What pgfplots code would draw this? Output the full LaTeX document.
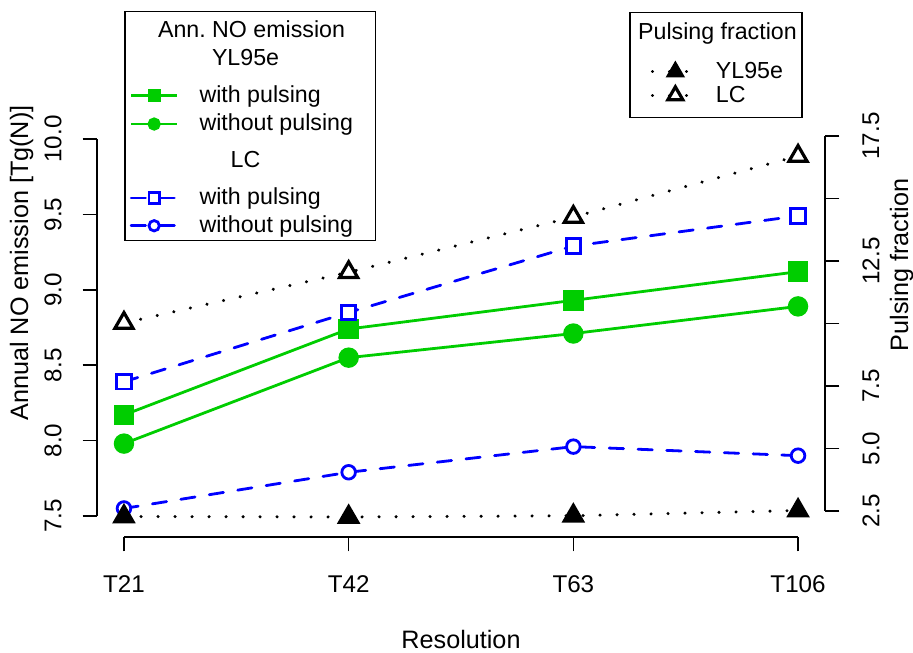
\documentclass[border=0pt]{standalone}
\usepackage{fontspec}
\setmainfont{Liberation Sans}
\usepackage{pgfplots}
\pgfplotsset{compat=1.18}
\frenchspacing
\definecolor{rgreen}{RGB}{0,205,0}
\definecolor{rblue}{RGB}{0,0,255}
\newcommand{\sr}[2]{\rule[-#2]{0pt}{\dimexpr#1+#2\relax}}
\pgfplotsset{
 rstyle/.style={
  scale only axis, width=364bp, height=209.5bp,
  xmin=-0.12, xmax=3.12, clip=false,
  tick align=outside, major tick length=7.2bp,
  every tick/.style={black, line width=0.75bp},
  axis line style={draw=none},
  tick label style={font=\fontsize{12.1bp}{14bp}\selectfont, inner sep=0pt},
  /pgf/number format/assume math mode=true,
  legend style={draw=black, line width=0.75bp, fill=white, inner sep=0pt, anchor=north west,
    font=\fontsize{11.6bp}{14bp}\selectfont, /tikz/column sep=0pt, /tikz/row sep=0pt,
    nodes={inner sep=0pt, text depth=, text height=}, cells={anchor=base west}},
 }}
\begin{document}
\begin{tikzpicture}
\path[use as bounding box] (0,0) rectangle (456.5bp,326.5bp);
\begin{axis}[rstyle, at={(48.5bp,58bp)}, anchor=south west,
 ymin=7.3607, ymax=10.1393,
 axis x line*=bottom, axis y line*=left,
 xtick={0,1,2,3}, xticklabels={T21,T42,T63,T106},
 ytick={7.5,8,8.5,9,9.5,10}, yticklabels={7.5,8.0,8.5,9.0,9.5,10.0},
 yticklabel style={rotate=90, anchor=south},
 xticklabel style={anchor=north},
 xticklabel shift=11.8bp, yticklabel shift=10.3bp,
 legend style={at={(0.03709,1.25537)}},
 legend image code/.code={\path (0bp,0bp) (36bp,0bp); \draw[mark repeat=2,mark phase=2,#1,mark size=2.6bp] plot coordinates {(2.5bp,3.35bp) (14bp,3.35bp) (25.5bp,3.35bp)};},
]
\addlegendimage{empty legend}\addlegendentry{\hspace*{-36bp}\makebox[124bp][c]{Ann. NO emission}\sr{12.85bp}{4bp}}
\addlegendimage{empty legend}\addlegendentry{\hspace*{-36bp}\makebox[118bp][c]{YL95e}\sr{10.15bp}{4bp}}
\addplot[rgreen, line width=1.4bp, mark=square*, mark size=4.5bp] coordinates {(0,8.17) (1,8.74) (2,8.93) (3,9.12)};
\addlegendentry{with pulsing\sr{14.35bp}{4bp}}
\addplot[rgreen, line width=1.4bp, mark=*, mark size=4.4bp] coordinates {(0,7.98) (1,8.55) (2,8.71) (3,8.89)};
\addlegendentry{without pulsing\sr{10.15bp}{4bp}}
\addlegendimage{empty legend}\addlegendentry{\hspace*{-36bp}\makebox[118bp][c]{LC}\sr{14.35bp}{4bp}}
\addplot[rblue, line width=1.4bp, dash pattern=on 7.2bp off 7.2bp, line cap=round, mark=square*, mark size=3.6bp, mark options={solid, fill=white}] coordinates {(0,8.39) (1,8.85) (2,9.29) (3,9.49)};
\addlegendentry{with pulsing\sr{14.65bp}{4bp}}
\addplot[rblue, line width=1.4bp, dash pattern=on 7.2bp off 7.2bp, line cap=round, mark=*, mark size=3.4bp, mark options={solid, fill=white}] coordinates {(0,7.55) (1,7.79) (2,7.96) (3,7.90)};
\addlegendentry{without pulsing\sr{9.85bp}{4.15bp}}
\draw[line width=0.75bp] (axis cs:0,7.3607) -- (axis cs:3,7.3607);
\draw[line width=0.75bp] (axis cs:-0.12,7.5) -- (axis cs:-0.12,10);
\end{axis}
\begin{axis}[rstyle, at={(48.5bp,58bp)}, anchor=south west,
 ymin=1.46, ymax=18.22,
 axis x line=none, axis y line*=right,
 ytick={2.5,5,7.5,10,12.5,15,17.5}, yticklabels={2.5,5.0,7.5,,12.5,,17.5},
 yticklabel style={rotate=90, anchor=north},
 yticklabel shift=11.3bp,
 legend style={at={(0.73077,1.25298)}},
 legend image code/.code={\path (0bp,0bp) (41.5bp,0bp); \draw[mark repeat=2,mark phase=2,#1,mark size=4.3bp] plot coordinates {(10.5bp,3.5bp) (22bp,3.5bp) (33.5bp,3.5bp)};},
]
\addlegendimage{empty legend}\addlegendentry{\hspace*{-41.5bp}\makebox[84.5bp][c]{Pulsing fraction}\sr{13.5bp}{4bp}}
\addplot[black, line width=1.6bp, dash pattern=on 0.1bp off 8.4bp, line cap=round, mark=triangle*, mark size=5.5bp, mark options={solid, line width=1.3bp}] coordinates {(0,2.28) (1,2.26) (2,2.31) (3,2.52)};
\addlegendentry{YL95e\sr{15.5bp}{1.85bp}}
\addplot[black, line width=1.6bp, dash pattern=on 0.1bp off 8.4bp, line cap=round, mark=triangle*, mark size=5.2bp, mark options={solid, fill=white, line width=1.6bp}] coordinates {(0,10.02) (1,12.05) (2,14.26) (3,16.7)};
\addlegendentry{LC\sr{10bp}{7.65bp}}
\draw[line width=0.75bp] (axis cs:3.12,2.5) -- (axis cs:3.12,17.5);
\end{axis}
\node[rotate=90, anchor=base, font=\fontsize{12.6bp}{15bp}\selectfont] at (14bp,195bp) {Annual NO emission [Tg(N)]};
\node[rotate=90, anchor=base, font=\fontsize{12.6bp}{15bp}\selectfont] at (454bp,194bp) {Pulsing fraction};
\node[anchor=base, font=\fontsize{12.6bp}{15bp}\selectfont] at (230.5bp,2.5bp) {Resolution};
\end{tikzpicture}
\end{document}
